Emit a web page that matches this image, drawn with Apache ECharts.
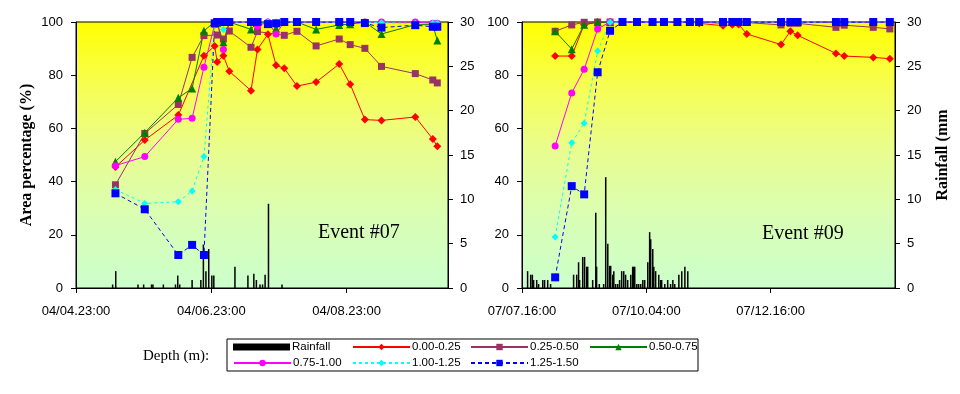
<!DOCTYPE html>
<html><head><meta charset="utf-8">
<script src="https://cdn.jsdelivr.net/npm/echarts@6/dist/echarts.min.js"></script>
<style>html,body{margin:0;padding:0;background:#fff}#c{width:960px;height:394px}</style>
</head><body><div id="c"></div>
<script>
// ---------- Event #07 (hours since 04/04 23:00) ----------
const ev07Hours = [14, 24.4, 36.3, 41.2, 45.4, 49.2, 50.1, 52.3, 54.4, 62.1, 64.4, 68.1, 71, 73.9, 78.4, 85.2, 93.4, 97.3, 102.5, 108.4, 120.4, 126.6, 128.2];
const ev07D000 = [45.5, 55.6, 65, null, 87.3, 91, 85, 87.3, 81.5, 74.2, 89.7, 95.4, 83.7, 82.6, 75.9, 77.4, 84.2, 76.6, 63.3, 63, 64.3, 56, 53.3];
const ev07D025 = [38.8, 58.1, 69, 86.7, 94.9, null, 95.1, 93.6, 96.6, 90.5, 96.4, null, null, 95, 96.5, 91, 93.6, 91.5, 90.1, 83.3, 80.6, 78.2, 77.1];
const ev07D050 = [47.5, 58.4, 71.5, 75, 96.7, 100, 99.5, 92.4, 100, 97.2, 100, 100, 97.6, 100, 100, 97.2, 98.9, 99.2, 100, 95.5, 99, 99, 93];
const ev07D075 = [46, 49.4, 63.4, 63.8, 83, 99, 100, 89.7, 100, 100, 98.5, 100, 95.5, 100, 100, 100, 100, 100, 100, 100, 100, 99.5, 99.5];
const ev07D100 = [37, 31.8, 32.4, 36.5, 49.4, 99, 100, 97.2, 100, 100, 100, 100, 100, 100, 100, 100, 100, 100, 100, 99.7, 99.5, 99.5, 99.5];
const ev07D125 = [35.6, 29.6, 12.4, 16.2, 12.4, 99.5, 100, 100, 100, 100, 100, 99.2, 99.5, 100, 100, 100, 100, 100, 99.6, 97.9, 98.8, 98.2, 98.2];
const ev07RainHours = [13, 14.1, 22, 24, 26.8, 27.3, 31, 35.3, 36.1, 36.8, 41.2, 44.3, 45.2, 46.1, 47.1, 48.2, 48.9, 56.4, 61, 63.1, 64, 65.3, 66.2, 67.1, 68.3, 73.1];
const ev07Rain = [0.4, 1.9, 0.4, 0.4, 0.4, 0.4, 0.4, 0.4, 1.4, 0.4, 0.9, 0.9, 4.9, 1.9, 4.4, 1.4, 1.4, 2.4, 1.4, 1.6, 0.9, 0.4, 0.4, 1.5, 9.5, 0.4];

// ---------- Event #09 (hours since 07/07 16:00) ----------
const ev09Hours = [16, 24, 30, 36.5, 42.5, 48.5, 55.5, 63, 68.5, 75, 81, 85.5, 97, 101.5, 104.5, 108.5, 125, 129.5, 133, 151.5, 155.5, 169.5, 177.5];
const ev09D000 = [87.2, 87.2, 99, 100, 100, 100, 100, 100, 100, 100, 100, 99.5, 98.6, 99, 99.1, 95.5, 91.5, 96.5, 95, 88.2, 87.2, 86.7, 86.2];
const ev09D025 = [96.5, 98.9, 99.9, 100, 100, 100, 100, 100, 100, 100, 100, 100, 99.5, 100, 100, 99.8, 98.9, 99.5, 99.5, 98, 98.8, 98, 97.4];
const ev09D050 = [96.5, 89.8, 99, 99.9, 100, 100, 100, 100, 100, 100, 100, 100, 100, 100, 100, 100, 100, 100, 100, 100, 100, 100, 100];
const ev09D075 = [53.4, 73.3, 82.2, 97.4, 100, 100, 100, 100, 100, 100, 100, 100, 100, 100, 100, 100, 100, 100, 100, 100, 100, 100, 100];
const ev09D100 = [19.2, 54.6, 61.9, 89.1, 99.9, 100, 100, 100, 100, 100, 100, 100, 100, 100, 100, 100, 100, 100, 100, 100, 100, 100, 100];
const ev09D125 = [4, 38.3, 35.2, 81.1, 96.7, 100, 100, 100, 100, 100, 100, 100, 100, 100, 100, 100, 100, 100, 100, 100, 100, 100, 100];
const ev09RainHours = [2.7,4.2,5.0,5.6,7.1,8.0,10.0,10.9,12.4,13.8,24.9,26.4,27.3,27.8,29.3,30.2,31.2,31.7,34.1,35.6,36.0,37.3,39.4,40.4,41.4,42.3,42.8,43.8,44.3,45.2,46.2,47.1,48.1,49.1,50.0,51.0,52.5,53.4,53.9,54.4,55.4,56.3,57.3,58.3,59.2,60.7,61.6,62.1,63.1,63.6,64.5,66.0,66.9,67.4,68.9,70.3,71.7,72.8,73.7,75.7,77.1,78.6,80.0];
const ev09Rain = [1.9,1.5,1.5,0.9,0.9,0.45,0.9,0.9,0.9,0.45,1.5,1.5,2.9,0.9,3.5,3.5,2.4,2.4,0.9,8.5,2.4,0.45,0.45,12.5,5.0,2.5,2.5,1.5,1.9,0.45,0.45,0.9,1.9,1.9,1.5,0.9,1.5,2.4,2.4,2.4,0.45,0.45,0.45,0.9,0.9,2.9,6.3,5.5,4.4,2.4,1.9,1.5,0.9,0.9,0.45,0.9,0.45,0.9,0.45,1.5,1.9,2.4,1.9];

// ---------- labels ----------
const depthNames = ['0.00-0.25', '0.25-0.50', '0.50-0.75', '0.75-1.00', '1.00-1.25', '1.25-1.50'];
const rainName = 'Rainfall';
const ev07Start = [2000, 4, 4, 23];
const ev09Start = [2000, 7, 7, 16];
const eventTitles = ['Event #07', 'Event #09'];

const styles = [
  {color: '#FF0000', symbol: 'diamond', size: 8, dash: 'solid'},
  {color: '#993366', symbol: 'rect', size: 7, dash: 'solid'},
  {color: '#008000', symbol: 'triangle', size: 8, dash: 'solid'},
  {color: '#FF00FF', symbol: 'circle', size: 7, dash: 'solid'},
  {color: '#00FFFF', symbol: 'diamond', size: 7, dash: [3, 3]},
  {color: '#0000FF', symbol: 'rect', size: 8, dash: [4, 3]}
];

function pad(n){ return (n < 10 ? '0' : '') + n; }
function fmt(start){
  return function(v){
    const d = new Date(Date.UTC(start[0], start[1]-1, start[2], start[3]) + v*3600000);
    return pad(d.getUTCMonth()+1) + '/' + pad(d.getUTCDate()) + '.' + pad(d.getUTCHours()) + ':00';
  };
}
const pair = (xs, ys) => xs.map((x, i) => [x, ys[i]]);

const bg = new echarts.graphic.LinearGradient(0, 0, 0, 1, [
  {offset: 0, color: '#FFFF00'},
  {offset: 0.25, color: '#F6FE55'},
  {offset: 0.5, color: '#E8FD92'},
  {offset: 0.75, color: '#D8FEB6'},
  {offset: 1, color: '#CCFFCC'}
]);

const font = 'Liberation Sans';
const axisLabel = {color: '#000', fontFamily: font, fontSize: 13};
const axisLine = {show: true, lineStyle: {color: '#000', width: 1}};
const axisTick = {show: true, length: 5, lineStyle: {color: '#000'}};

function yLeft(g, withName){
  return {type: 'value', gridIndex: g, position: 'left', min: 0, max: 100, interval: 20,
    axisLine, axisTick, splitLine: {show: false},
    axisLabel: Object.assign({margin: 13}, axisLabel),
    name: withName ? 'Area percentage (%)' : '', nameLocation: 'middle', nameGap: 41, nameRotate: 90,
    nameTextStyle: {fontFamily: 'Liberation Serif', fontWeight: 'bold', fontSize: 16, color: '#000'}};
}
function yRight(g, withName){
  return {type: 'value', gridIndex: g, position: 'right', min: 0, max: 30, interval: 5,
    axisLine, axisTick, splitLine: {show: false},
    axisLabel: Object.assign({margin: 12}, axisLabel),
    name: withName ? 'Rainfall (mm' : '', nameLocation: 'middle', nameGap: 40, nameRotate: 90,
    nameTextStyle: {fontFamily: 'Liberation Serif', fontWeight: 'bold', fontSize: 16, color: '#000'}};
}

const series = [];
function addPanel(g, hours, depthSets, rainHours, rain){
  series.push({name: rainName, type: 'bar', xAxisIndex: g, yAxisIndex: g*2+1,
    data: pair(rainHours, rain), barWidth: 1.5, itemStyle: {color: '#000'}, silent: true});
  depthSets.forEach((vals, i) => {
    const s = styles[i];
    series.push({name: depthNames[i], type: 'line', xAxisIndex: g, yAxisIndex: g*2,
      data: pair(hours, vals), connectNulls: true,
      symbol: s.symbol, symbolSize: s.size, showAllSymbol: true,
      lineStyle: {color: s.color, width: 1, type: s.dash},
      itemStyle: {color: s.color}});
  });
}
addPanel(0, ev07Hours, [ev07D000, ev07D025, ev07D050, ev07D075, ev07D100, ev07D125], ev07RainHours, ev07Rain);
addPanel(1, ev09Hours, [ev09D000, ev09D025, ev09D050, ev09D075, ev09D100, ev09D125], ev09RainHours, ev09Rain);

const legendPos = [
  [rainName, 233, 341], [depthNames[0], 352, 341], [depthNames[1], 470, 341], [depthNames[2], 589, 341],
  [depthNames[3], 233, 357], [depthNames[4], 352, 357], [depthNames[5], 470, 357]
];
const legends = legendPos.map(([n, x, y]) => ({
  data: [n === rainName ? {name: n, icon: 'rect'} : n], left: x, top: y, padding: 0,
  itemWidth: 57, itemHeight: n === rainName ? 7 : 8, itemGap: 0,
  textStyle: {fontFamily: font, fontSize: 11.5, color: '#000', padding: [0, 0, 0, -3]},
  selectedMode: false
}));

const chart = echarts.init(document.getElementById('c'));
chart.setOption({
  animation: false,
  grid: [
    {left: 76, top: 22, width: 372, height: 266, show: true, backgroundColor: bg, borderColor: '#000', borderWidth: 1},
    {left: 522, top: 22, width: 373, height: 266, show: true, backgroundColor: bg, borderColor: '#000', borderWidth: 1}
  ],
  xAxis: [
    {type: 'value', gridIndex: 0, min: 0, max: 132, interval: 48, axisLine, axisTick, splitLine: {show: false},
     axisLabel: Object.assign({margin: 17, formatter: fmt(ev07Start), showMaxLabel: false}, axisLabel)},
    {type: 'value', gridIndex: 1, min: 0, max: 180, interval: 60, axisLine, axisTick, splitLine: {show: false},
     axisLabel: Object.assign({margin: 17, formatter: fmt(ev09Start), showMaxLabel: false}, axisLabel)}
  ],
  yAxis: [yLeft(0, true), yRight(0, false), yLeft(1, false), yRight(1, true)],
  legend: legends,
  graphic: [
    {type: 'text', left: 318, top: 223, style: {text: eventTitles[0], font: '20px "Liberation Serif"', fill: '#000'}},
    {type: 'text', left: 762, top: 224, style: {text: eventTitles[1], font: '20px "Liberation Serif"', fill: '#000'}},
    {type: 'text', left: 143, top: 349, style: {text: 'Depth (m):', font: '15px "Liberation Serif"', fill: '#000'}},
    {type: 'rect', shape: {x: 227, y: 339, width: 471, height: 32}, style: {fill: 'none', stroke: '#000', lineWidth: 1}, z: 10}
  ],
  series
});
</script></body></html>
